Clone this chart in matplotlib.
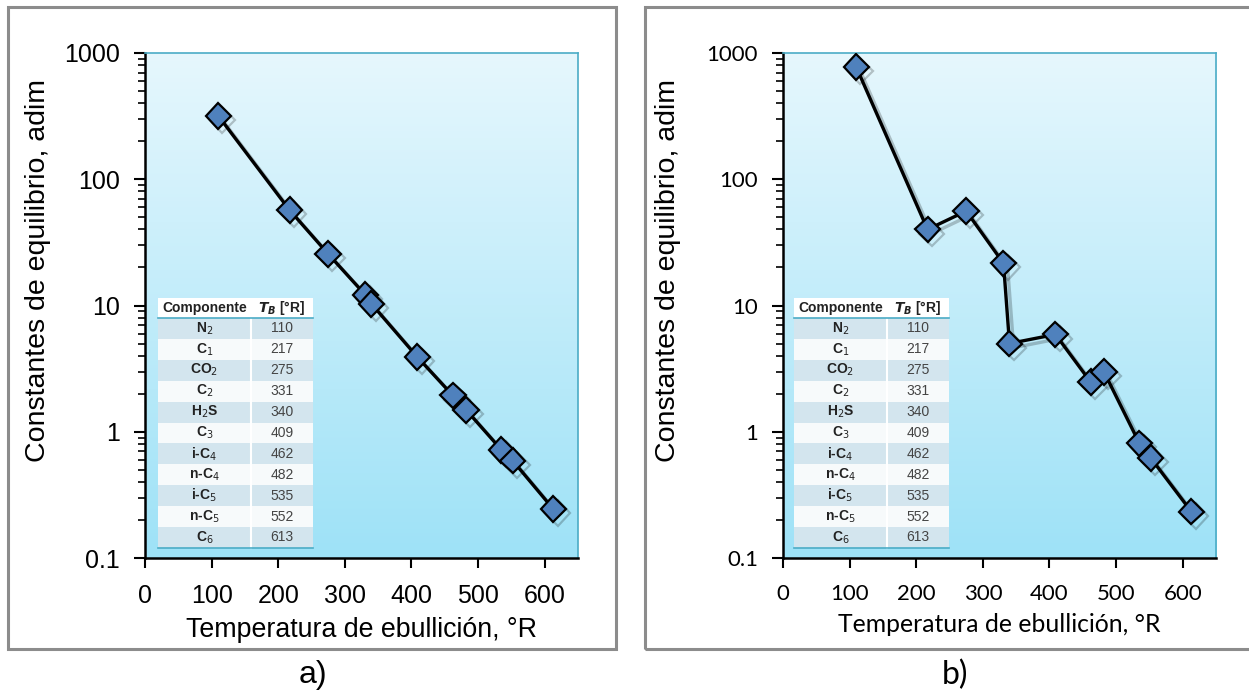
import matplotlib.pyplot as plt
import matplotlib.patheffects as pe
import numpy as np
from matplotlib.patches import Rectangle
from matplotlib.ticker import FixedLocator, LogLocator, NullFormatter

# --- data ---
components = ['N$_2$', 'C$_1$', 'CO$_2$', 'C$_2$', 'H$_2$S', 'C$_3$',
              'i-C$_4$', 'n-C$_4$', 'i-C$_5$', 'n-C$_5$', 'C$_6$']
t_boil = [110, 217, 275, 331, 340, 409, 462, 482, 535, 552, 613]
k_a = [318, 57, 25.6, 12.1, 10.3, 3.9, 1.94, 1.49, 0.72, 0.59, 0.244]
k_b = [773, 40, 56, 21.6, 5.0, 5.9, 2.47, 2.97, 0.81, 0.62, 0.233]
x_ticks = [0, 100, 200, 300, 400, 500, 600]
y_ticks = [0.1, 1, 10, 100, 1000]
y_ticklabels = ['0.1', '1', '10', '100', '1000']

W, H = 1249, 692
fig = plt.figure(figsize=(W / 100, H / 100), dpi=100)


def fx(px):
    return px / W


def fy(py):
    return 1 - py / H


# outer gray frames
for x0, x1 in [(8, 616), (645, 1262)]:
    fig.patches.append(Rectangle((fx(x0), fy(649)), fx(x1 - x0), (649 - 7) / H,
                                 transform=fig.transFigure, fill=False,
                                 ec='#8c8c8c', lw=2.2))

grad = np.linspace(0, 1, 256).reshape(-1, 1)
top_c = np.array([230, 247, 253]) / 255
bot_c = np.array([158, 226, 247]) / 255
grad_img = top_c[None, None, :] * (1 - grad[:, :, None]) + bot_c[None, None, :] * grad[:, :, None]


def make_panel(ax_left_px, kvals, tick_font, xlab_font, xlab_size, tick_size,
               tbl_left_px, ylab_x):
    ax = fig.add_axes([fx(ax_left_px), fy(558), fx(433), (558 - 53) / H])
    ax.set_yscale('log')
    ax.set_xlim(0, 650)
    ax.set_ylim(0.1, 1000)
    ax.imshow(grad_img, extent=[0, 1, 0, 1], transform=ax.transAxes,
              aspect='auto', zorder=0)

    shadow = [pe.SimpleLineShadow(offset=(3, -3), alpha=0.22, shadow_color='k'),
              pe.Normal()]
    ax.plot(t_boil, kvals, '-', color='black', lw=2.4, zorder=3,
            path_effects=shadow)
    ax.plot(t_boil, kvals, 'D', ms=13, mfc='#4f81bd', mec='black', mew=1.6,
            zorder=4, path_effects=shadow)

    for s in ['top', 'right']:
        ax.spines[s].set_color('#4bacc6')
        ax.spines[s].set_linewidth(1.2)
    for s in ['left', 'bottom']:
        ax.spines[s].set_color('black')
        ax.spines[s].set_linewidth(1.8)

    ax.xaxis.set_major_locator(FixedLocator(x_ticks))
    ax.set_xticklabels([str(v) for v in x_ticks], fontfamily=tick_font,
                       fontsize=tick_size)
    ax.yaxis.set_major_locator(FixedLocator(y_ticks))
    ax.set_yticklabels(y_ticklabels, fontfamily=tick_font, fontsize=tick_size)
    ax.yaxis.set_minor_locator(LogLocator(base=10, subs=np.arange(2, 10)))
    ax.yaxis.set_minor_formatter(NullFormatter())
    ax.tick_params(axis='x', direction='out', length=7, width=1.5, pad=12)
    ax.tick_params(axis='y', which='major', direction='out', length=8,
                   width=1.5, pad=10)
    ax.tick_params(axis='y', which='minor', direction='out', length=5,
                   width=1.2)

    ax.set_xlabel('Temperatura de ebullición, °R', fontfamily=xlab_font,
                  fontsize=xlab_size, labelpad=6)
    ax.set_ylabel('Constantes de equilibrio, adim', fontfamily='Liberation Sans',
                  fontsize=20.5)
    ax.yaxis.set_label_coords(ylab_x, 0.57)

    # inset table (figure pixel coords)
    tl = tbl_left_px
    c1 = 93
    c2 = 62
    top = 298
    hdr_h = 20
    row_h = 20.9
    fig.patches.append(Rectangle((fx(tl), fy(top + hdr_h)), fx(c1 + c2),
                                 hdr_h / H, transform=fig.transFigure,
                                 fc='white', ec='none', zorder=5))
    fig.text(fx(tl + c1 / 2), fy(top + hdr_h / 2), 'Componente',
             fontfamily='Liberation Sans', fontweight='bold', fontsize=10,
             ha='center', va='center', color='#222222', zorder=6)
    fig.text(fx(tl + c1 + c2 / 2), fy(top + hdr_h / 2),
             r'$\mathbfit{T}_{\mathbfit{B}}$ [°R]',
             fontfamily='Liberation Sans', fontweight='bold', fontsize=10,
             ha='center', va='center', color='#222222', zorder=6)
    for i, (name, tb) in enumerate(zip(components, t_boil)):
        y0 = top + hdr_h + i * row_h
        fc = '#d3e5ee' if i % 2 == 0 else '#f7fafb'
        fig.patches.append(Rectangle((fx(tl), fy(y0 + row_h)), fx(c1 + c2),
                                     row_h / H, transform=fig.transFigure,
                                     fc=fc, ec='none', zorder=5))
        fig.text(fx(tl + c1 / 2), fy(y0 + row_h / 2), name,
                 fontfamily='Liberation Sans', fontweight='bold', fontsize=10,
                 ha='center', va='center', color='#222222', zorder=6)
        fig.text(fx(tl + c1 + c2 / 2), fy(y0 + row_h / 2), str(tb),
                 fontfamily='Liberation Sans', fontsize=10,
                 ha='center', va='center', color='#444444', zorder=6)
    bottom = top + hdr_h + len(components) * row_h
    fig.add_artist(plt.Line2D([fx(tl + c1), fx(tl + c1)],
                              [fy(top + hdr_h), fy(bottom)],
                              transform=fig.transFigure, color='white', lw=1.5,
                              zorder=7))
    for yy in [top + hdr_h, bottom]:
        fig.add_artist(plt.Line2D([fx(tl), fx(tl + c1 + c2)], [fy(yy), fy(yy)],
                                  transform=fig.transFigure, color='#4bacc6',
                                  lw=1.2, zorder=7))
    return ax


make_panel(145, k_a, 'Liberation Sans', 'Liberation Sans', 19.3, 18, 158, -0.217)
make_panel(783, k_b, 'Lato', 'Lato', 17.8, 16, 794, -0.236)

fig.text(fx(313), fy(675), 'a)', fontfamily='Liberation Sans', fontsize=23,
         ha='center', va='center')
fig.text(fx(955), fy(675), 'b)', fontfamily='Lato', fontsize=23,
         ha='center', va='center')

fig.savefig('out.png', dpi=100)
